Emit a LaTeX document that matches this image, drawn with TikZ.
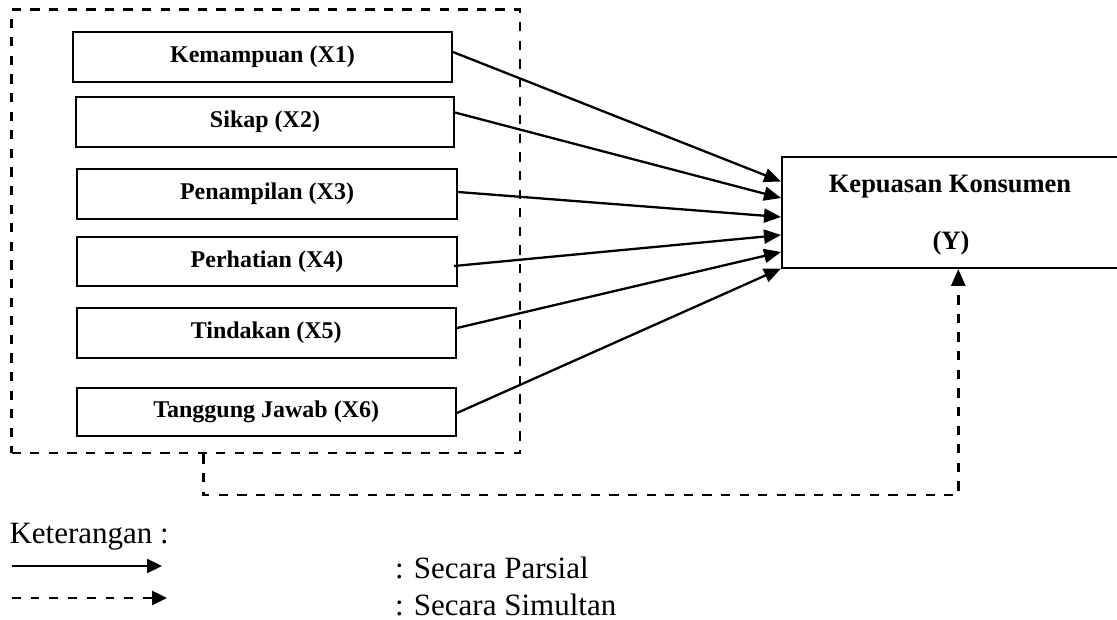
\documentclass[tikz,border=0pt]{standalone}
\usepackage{fontspec}
\setmainfont{Liberation Serif}
\usetikzlibrary{arrows.meta,calc}
\tikzset{
  varbox/.style={draw, line width=2pt, rectangle, minimum width=380pt, minimum height=50pt, inner sep=0pt,
    font=\fontsize{24}{28}\selectfont\bfseries},
  ybox/.style={draw, line width=2pt, rectangle, minimum width=338pt, minimum height=111pt, inner sep=0pt},
  ytext/.style={inner sep=0pt, outer sep=0pt, anchor=base, font=\fontsize{26.5}{30}\selectfont\bfseries},
  legtext/.style={inner sep=0pt, outer sep=0pt, anchor=base west, font=\fontsize{31}{36}\selectfont},
  grpbox/.style={draw, line width=2.8pt, dash pattern=on 9.3pt off 9.3pt, rectangle, minimum width=508.5pt, minimum height=443.4pt, inner sep=0pt},
  partial/.style={line width=2.3pt, -{Triangle[length=17pt,width=14pt]}},
  simul/.style={line width=2.8pt, dash pattern=on 9.3pt off 9.3pt, -{Triangle[length=17pt,width=14pt]}}
}
\begin{document}
\begin{tikzpicture}[x=1pt,y=-1pt]
\useasboundingbox (0,0) rectangle (1117,620);
% group box
\node[grpbox] (grp) at (265.75,231.3) {};
% variable boxes
\node[varbox, minimum width=379pt] (x1) at (262.5,57) {Kemampuan (X1)};
\node[varbox, minimum width=378pt] (x2) at (265,122) {Sikap (X2)};
\node[varbox] (x3) at (267,194) {Penampilan (X3)};
\node[varbox, minimum height=49pt] (x4) at (267,261.5) {Perhatian (X4)};
\node[varbox, minimum width=379.5pt] (x5) at (266.25,333) {Tindakan (X5)};
\node[varbox, minimum width=379.5pt, minimum height=48pt] (x6) at (266.25,412) {Tanggung Jawab (X6)};
% dependent box
\node[ybox] (Y) at (951,212.5) {};
\node[ytext] (ylab1) at (950,193) {Kepuasan Konsumen};
\node[ytext] (ylab2) at (951,250) {(Y)};
% partial arrows
\draw[partial] ($(x1.east)+(0,-5)$) -- ($(Y.west)+(0,-31)$);
\draw[partial] ($(x2.east)+(-2,-10)$) -- ($(Y.west)+(0,-14.5)$);
\draw[partial] ($(x3.east)+(0,-2)$) -- ($(Y.west)+(0,4.5)$);
\draw[partial] ($(x4.east)+(-4,4.5)$) -- ($(Y.west)+(0,22.5)$);
\draw[partial] ($(x5.east)+(0,-5)$) -- ($(Y.west)+(0,39.5)$);
\draw[partial] ($(x6.east)+(0,1)$) -- ($(Y.west)+(0,56)$);
% simultaneous path
\coordinate (c1) at (203.5,495);
\coordinate (c2) at (958.3,495);
\draw[simul] (grp.south -| c1) -- (c1) -- (c2) -- (c2 |- Y.south);
% legend
\node[legtext] (ket) at (9.5,543) {Keterangan :};
\coordinate (l1a) at (12,566);
\coordinate (l1b) at (162,566);
\coordinate (l2a) at (12,598);
\coordinate (l2b) at (167,598);
\draw[line width=2.3pt, -{Triangle[length=15pt,width=14pt]}] (l1a) -- (l1b);
\draw[line width=2.5pt, dash pattern=on 8.7pt off 10pt, -{Triangle[length=15pt,width=14pt]}] (l2a) -- (l2b);
\node[legtext] (lp) at (395,578) {: Secara Parsial};
\node[legtext] (ls) at (395,615) {: Secara Simultan};
\end{tikzpicture}
\end{document}
